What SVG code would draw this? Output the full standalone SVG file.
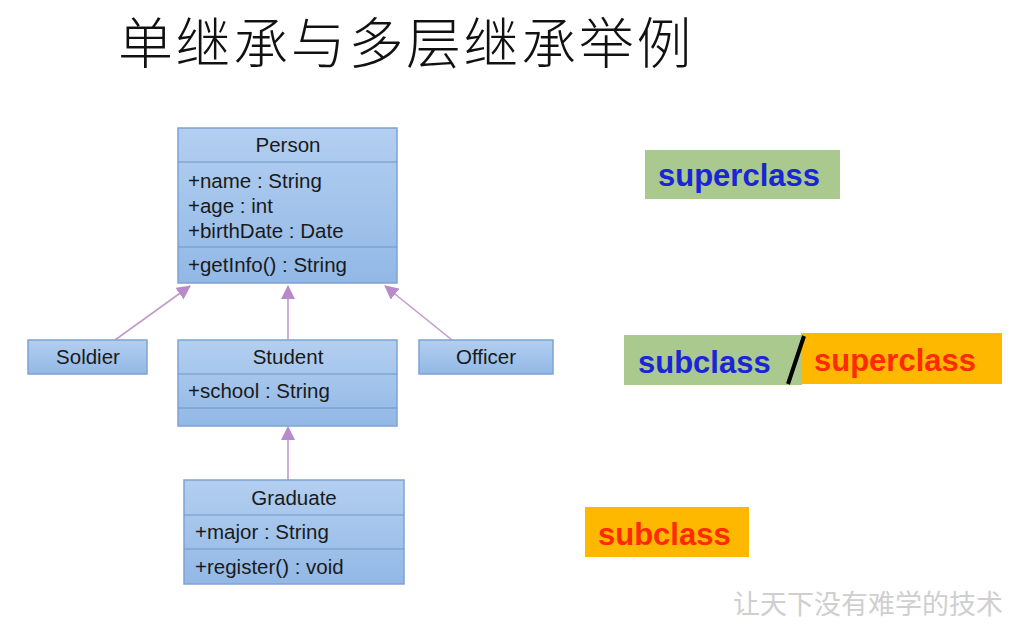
<svg xmlns="http://www.w3.org/2000/svg" width="1014" height="624" viewBox="0 0 1014 624">
<defs>
<linearGradient id="boxg" x1="0" y1="0" x2="0" y2="1">
<stop offset="0" stop-color="#b3cff0"/>
<stop offset="1" stop-color="#92b8e6"/>
</linearGradient>
<marker id="tri" markerWidth="14" markerHeight="14" refX="13" refY="7" orient="auto" markerUnits="userSpaceOnUse">
<path d="M0,0 L14,7 L0,14 Z" fill="#b98acb"/>
</marker>
</defs>
<style>
.box{fill:url(#boxg);stroke:#7ea3d3;stroke-width:1.5}
.div{stroke:#6f95c8;stroke-width:1.2}
.t{font-family:"Liberation Sans",Arial,sans-serif;font-size:20.5px;fill:#1a1a1a}
.c{text-anchor:middle}
.conn{stroke:#c09ccc;stroke-width:1.6;fill:none;marker-end:url(#tri)}
.lb{font-family:"Liberation Sans",Arial,sans-serif;font-size:31px;font-weight:bold}
</style>
<rect width="1014" height="624" fill="#ffffff"/>
<text x="118" y="63" font-family="'Noto Sans CJK SC',sans-serif" font-size="55" font-weight="300" letter-spacing="2.6" fill="#111">单继承与多层继承举例</text>

<g id="connectors">
<line class="conn" x1="115" y1="340" x2="190" y2="286"/>
<line class="conn" x1="288" y1="340" x2="288" y2="286"/>
<line class="conn" x1="452" y1="340" x2="385" y2="286"/>
<line class="conn" x1="288" y1="480" x2="288" y2="427"/>
</g>

<g id="Person">
<rect class="box" x="178" y="128" width="219" height="155"/>
<line class="div" x1="178" y1="162" x2="397" y2="162"/>
<line class="div" x1="178" y1="247" x2="397" y2="247"/>
<text class="t c" x="288" y="152">Person</text>
<text class="t" x="188" y="188">+name : String</text>
<text class="t" x="188" y="213">+age : int</text>
<text class="t" x="188" y="238">+birthDate : Date</text>
<text class="t" x="188" y="272">+getInfo() : String</text>
</g>

<g id="Soldier">
<rect class="box" x="28" y="340" width="119" height="34"/>
<text class="t c" x="88" y="364">Soldier</text>
</g>

<g id="Student">
<rect class="box" x="178" y="340" width="219" height="86"/>
<line class="div" x1="178" y1="374" x2="397" y2="374"/>
<line class="div" x1="178" y1="408" x2="397" y2="408"/>
<text class="t c" x="288" y="364">Student</text>
<text class="t" x="188" y="398">+school : String</text>
</g>

<g id="Officer">
<rect class="box" x="419" y="340" width="134" height="34"/>
<text class="t c" x="486" y="364">Officer</text>
</g>

<g id="Graduate">
<rect class="box" x="184" y="480" width="220" height="104"/>
<line class="div" x1="184" y1="515" x2="404" y2="515"/>
<line class="div" x1="184" y1="549" x2="404" y2="549"/>
<text class="t c" x="294" y="505">Graduate</text>
<text class="t" x="195" y="539">+major : String</text>
<text class="t" x="195" y="574">+register() : void</text>
</g>

<g id="label-superclass">
<rect x="645" y="150" width="195" height="49" fill="#a9c98f"/>
<text class="lb" x="658" y="186" fill="#1a25d6">superclass</text>
</g>

<g id="label-sub-super">
<rect x="624" y="335" width="178" height="50" fill="#a9c98f"/>
<rect x="801" y="333" width="201" height="51" fill="#ffb800"/>
<line x1="804" y1="336" x2="788" y2="384" stroke="#000" stroke-width="4"/>
<text class="lb" x="638" y="373" fill="#1a25d6">subclass</text>
<text class="lb" x="814" y="371" fill="#ff2a00">superclass</text>
</g>

<g id="label-subclass">
<rect x="585" y="507" width="164" height="50" fill="#ffb800"/>
<text class="lb" x="598" y="545" fill="#ff2a00">subclass</text>
</g>

<text x="733" y="614" font-family="'Noto Sans CJK SC',sans-serif" font-size="27" fill="#cfcfcf">让天下没有难学的技术</text>
</svg>
